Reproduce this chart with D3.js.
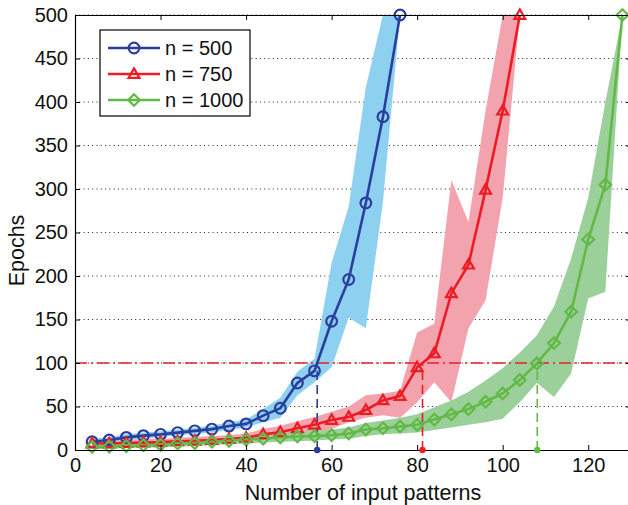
<!DOCTYPE html>
<html><head><meta charset="utf-8">
<script src="https://cdn.jsdelivr.net/npm/d3@7"></script>
<style>
body{margin:0;background:#fff;}
text{font-family:"Liberation Sans",Arial,Helvetica,sans-serif;fill:#111;}
</style>
</head><body>
<svg id="c" width="628" height="505"></svg>
<script>
// ---------- data ----------
const xBlue  = [4,8,12,16,20,24,28,32,36,40,44,48,52,56,60,64,68,72,76];
const blueVals = [9.5,11.5,14.5,16.5,18,20,22,24,27.5,30,39.5,48,77,91,148,196,284,383,500];
const blueLo   = [6,8,11,13,15,17,18.5,20,23,26,32,37,63,78,95,152,140,285,500];
const blueHi   = [13,15,18,20,21.5,23.5,25.5,28,32,35,47,60,90,105,215,280,417,500,500];

const xRed   = [4,8,12,16,20,24,28,32,36,40,44,48,52,56,60,64,68,72,76,80,84,88,92,96,100,104];
const redVals = [7.5,7.5,8,8.5,9,10,10.5,11.5,12.5,14,18,20.5,25,29,34.5,38,46,57,62,95,111,180,213,299,390,500];
const redLo   = [4,4.5,5,5.5,6,6.5,7,8,9,10,12,14,17,20,24,32,37,40,37,55,78,55,140,172,290,500];
const redHi   = [11,11.5,12,12.5,13,14,15,16,17,19,24,28,33,38,44,50,63,65,68,135,145,310,262,390,500,500];

const xGreen = [4,8,12,16,20,24,28,32,36,40,44,48,52,56,60,64,68,72,76,80,84,88,92,96,100,104,108,112,116,120,124,128];
const greenVals = [3.5,4,4.5,5.5,6,7.5,8,9.5,10.5,12,13,14.5,15.5,16,17,19,23.5,25,27,29,35,41,47,55.5,65,80.5,99.5,123,159,242,305,500];
const greenLo   = [1,1.5,2,2.5,3,4,4.5,5.5,6.5,7.5,8.5,9.5,10,11,12,13,16,18,19,20,23,26,29,32,36,55,77,61,88,174,182,500];
const greenHi   = [6,6.5,7,8.5,9,11,12,13.5,15,16.5,18,20,21,22,23.5,26,31,34,37,41,49,57,67,80,94,112,132,165,220,290,400,500];

const xTicks = [0,20,40,60,80,100,120];
const yTicks = [0,50,100,150,200,250,300,350,400,450,500];
const threshold = 100;
const seriesNames = ["n = 500","n = 750","n = 1000"];

const series = [
  {name:seriesNames[0], xs:xBlue,  v:blueVals,  lo:blueLo,  hi:blueHi,  line:"#2a3f9d", band:"#8dd0f0", marker:"circle"},
  {name:seriesNames[1], xs:xRed,   v:redVals,   lo:redLo,   hi:redHi,   line:"#ec1c24", band:"#f2a3ae", marker:"triangle"},
  {name:seriesNames[2], xs:xGreen, v:greenVals, lo:greenLo, hi:greenHi, line:"#63b946", band:"#9bd09b", marker:"diamond"}
];

// ---------- layout ----------
const svg = d3.select("#c");
const L = 75, T = 15, B = 450, R = 631;
const x = d3.scaleLinear().domain([0,130]).range([L,R]);
const y = d3.scaleLinear().domain([0,500]).range([B,T]);

svg.append("defs").append("clipPath").attr("id","clip")
  .append("rect").attr("x",L).attr("y",T).attr("width",R-L).attr("height",B-T);

// gridlines (dotted)
svg.append("g").selectAll("line").data(yTicks.filter(d=>d>0))
  .join("line")
  .attr("x1",L).attr("x2",R).attr("y1",d=>y(d)).attr("y2",d=>y(d))
  .attr("stroke","#222").attr("stroke-width",1).attr("stroke-dasharray","1,3.3");

const plot = svg.append("g").attr("clip-path","url(#clip)");

// bands
series.forEach(s=>{
  const pts = s.xs.map((xx,i)=>({x:xx, lo:s.lo[i], hi:s.hi[i]}));
  plot.append("path").datum(pts)
    .attr("fill",s.band).attr("stroke","none")
    .attr("d", d3.area().x(d=>x(d.x)).y0(d=>y(d.lo)).y1(d=>y(d.hi)));
});

// crossing points with threshold
function crossing(s){
  for(let i=1;i<s.v.length;i++){
    if(s.v[i-1]<threshold && s.v[i]>=threshold){
      const t=(threshold-s.v[i-1])/(s.v[i]-s.v[i-1]);
      return s.xs[i-1]+t*(s.xs[i]-s.xs[i-1]);
    }
  }
  return null;
}
series.forEach(s=>{
  const cx = crossing(s);
  plot.append("line")
    .attr("x1",x(cx)).attr("x2",x(cx)).attr("y1",y(0)).attr("y2",y(threshold))
    .attr("stroke",s.line).attr("stroke-width",1.6).attr("stroke-dasharray","9,5");
  s.cross = cx;
});

// threshold dash-dot line
plot.append("line")
  .attr("x1",L).attr("x2",R).attr("y1",y(threshold)).attr("y2",y(threshold))
  .attr("stroke","#e8202a").attr("stroke-width",1.6).attr("stroke-dasharray","12,4,2,4");

// lines + markers
const markerPath = {
  circle: d3.symbol().type(d3.symbolCircle).size(90)(),
  triangle: "M0,-5.6L5.4,3.8L-5.4,3.8Z",
  diamond: "M0,-5.8L5.8,0L0,5.8L-5.8,0Z"
};
series.forEach(s=>{
  const pts = s.xs.map((xx,i)=>({x:xx, v:s.v[i]}));
  plot.append("path").datum(pts)
    .attr("fill","none").attr("stroke",s.line).attr("stroke-width",2.6)
    .attr("d", d3.line().x(d=>x(d.x)).y(d=>y(d.v)));
  svg.append("g").selectAll("path").data(pts).join("path")
    .attr("transform",d=>`translate(${x(d.x)},${y(d.v)})`)
    .attr("d",markerPath[s.marker])
    .attr("fill","none").attr("stroke",s.line).attr("stroke-width",2.2);
});

// axes
const fs = "20px";
const gx = svg.append("g").attr("transform",`translate(0,${B})`)
  .call(d3.axisBottom(x).tickValues(xTicks).tickSizeInner(-5).tickSizeOuter(0).tickPadding(8));
const gy = svg.append("g").attr("transform",`translate(${L},0)`)
  .call(d3.axisLeft(y).tickValues(yTicks).tickSizeInner(-5).tickSizeOuter(0).tickPadding(7));
const gt = svg.append("g").attr("transform",`translate(0,${T})`)
  .call(d3.axisTop(x).tickValues(xTicks).tickSizeInner(-5).tickSizeOuter(0).tickFormat(""));
const gr = svg.append("g").attr("transform",`translate(${R},0)`)
  .call(d3.axisRight(y).tickValues(yTicks).tickSizeInner(-5).tickSizeOuter(0).tickFormat(""));
[gx,gy,gt,gr].forEach(g=>{
  g.selectAll(".domain").attr("stroke","#000").attr("stroke-width",1.2);
  g.selectAll(".tick line").attr("stroke","#000").attr("stroke-width",1);
  g.selectAll("text").style("font-size",fs).attr("fill","#111");
});
gx.selectAll("text").attr("font-family",null);
gy.selectAll("text").attr("font-family",null);

// dots on the x-axis
series.forEach(s=>{
  svg.append("circle").attr("cx",x(s.cross)).attr("cy",y(0)).attr("r",3.2).attr("fill",s.line);
});

// axis labels
svg.append("text").attr("x",363).attr("y",500)
  .attr("text-anchor","middle").style("font-size","21.5px").text("Number of input patterns");
svg.append("text").attr("transform",`translate(24,${(T+B)/2+18}) rotate(-90)`)
  .attr("text-anchor","middle").style("font-size","21.5px").text("Epochs");

// legend
const lg = svg.append("g");
lg.append("rect").attr("x",100).attr("y",30).attr("width",150).attr("height",86)
  .attr("fill","#fff").attr("stroke","#000").attr("stroke-width",1.2);
series.forEach((s,i)=>{
  const yy = 48 + i*26;
  lg.append("line").attr("x1",108).attr("x2",160).attr("y1",yy).attr("y2",yy)
    .attr("stroke",s.line).attr("stroke-width",2.6);
  lg.append("path").attr("transform",`translate(134,${yy})`).attr("d",markerPath[s.marker])
    .attr("fill","none").attr("stroke",s.line).attr("stroke-width",2.2);
  lg.append("text").attr("x",165).attr("y",yy+7).style("font-size","20px").text(s.name);
});
</script>
</body></html>
